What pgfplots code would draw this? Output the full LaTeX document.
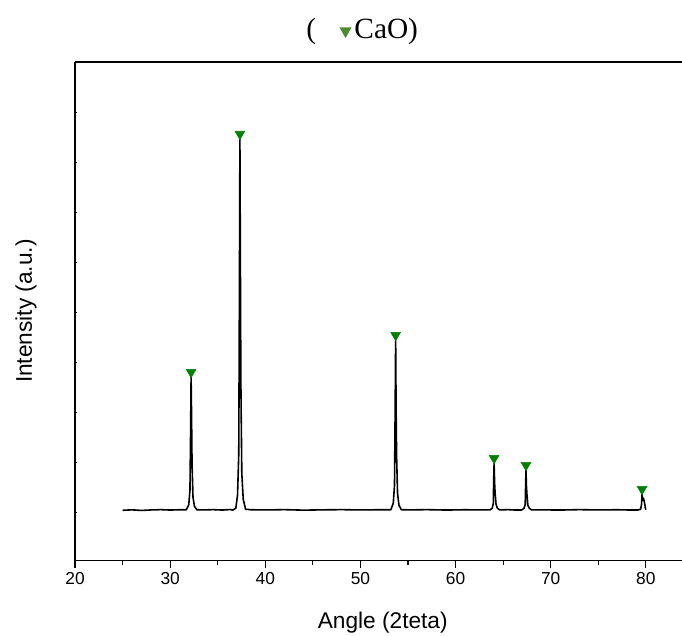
\documentclass[border=0pt]{standalone}
\usepackage{pgfplots}
\pgfplotsset{compat=1.18}
\usepackage{fontspec}
\setmainfont{Liberation Sans}
\newfontfamily\seriffont{Liberation Serif}
\definecolor{cao}{HTML}{008000}
\definecolor{caotitle}{HTML}{4E8A2F}

\pgfplotstableread{
x y
25.0 50.0
26.0 50.4
27.0 49.8
28.0 50.3
29.0 50.6
30.0 50.2
31.0 50.5
31.7 50.5
31.95 55.3
32.08 70
32.15 130
32.2 183
32.25 143
32.3 96
32.4 63
32.55 54
32.8 50.5
33.5 50.3
34.5 50.6
35.5 50.2
36.3 50.7
36.6 50.2
36.9 52.0
37.08 65
37.21 106
37.28 273
37.33 421
37.38 300
37.43 180
37.53 87
37.68 61
37.93 51
38.5 50.5
40.0 50.3
42.0 50.6
44.0 50.1
46.0 50.4
48.0 50.6
50.0 50.3
52.0 50.5
53.2 50.5
53.45 57
53.58 75
53.65 152
53.7 220
53.75 150
53.8 105
53.9 67
54.05 55
54.3 50.5
55.5 50.4
57.0 50.6
59.0 50.2
61.0 50.5
62.5 50.3
63.6 50.3
63.85 52
63.97 57
64.0 78
64.05 97
64.1 78
64.15 68
64.25 56
64.4 52
64.65 50.3
65.5 50.6
66.3 50.2
66.95 50.3
67.2 52
67.32 56
67.36 74
67.4 90
67.45 74
67.5 66
67.6 55
67.75 52
68.0 50.3
69.0 50.4
71.0 50.2
73.0 50.6
75.0 50.3
77.0 50.5
78.5 50.2
79.2 50.3
79.45 51
79.55 56
79.6 66
79.65 60
79.75 62
79.85 58
79.95 52
80.0 50.5
}\xrd

\pgfplotstableread{
x y
32.2 188
37.33 426
53.7 225
64.05 102
67.4 95
79.6 71
}\peaks

\begin{document}
\begin{tikzpicture}
\begin{axis}[
  scale only axis,
  width=455pt, height=373.5pt,
  xmin=20, xmax=83.8,
  ymin=0, ymax=498,
  axis y line*=left,
  axis x line*=box,
  axis line style={line width=1.1pt},
  xtick={20,30,40,50,60,70,80},
  minor xtick={25,35,45,55,65,75},
  xtick pos=bottom,
  xtick align=outside,
  ytick={48,98,148,198,248,298,348,398,448},
  yticklabels={},
  ytick align=inside,
  ytick style={/pgfplots/major tick length=1.5pt, line width=0.6pt},
  major tick length=5.5pt,
  minor tick length=3.5pt,
  every tick/.style={black, line width=0.9pt},
  xticklabel={\fontsize{13}{15}\selectfont\pgfmathprintnumber[assume math mode=true]{\tick}},
  xlabel={Angle (2teta)},
  ylabel={Intensity (a.u.)},
  every axis x label/.style={at={(axis description cs:0.507,-0.1365)}, anchor=base, font=\fontsize{17}{19}\selectfont},
  every axis y label/.style={at={(axis description cs:-0.0709,0.5)}, rotate=90, anchor=base, font=\fontsize{17}{19}\selectfont},
  title={{\seriffont (\hspace{0.8em}\tikz[baseline=0pt]\fill[caotitle] (0,8pt)--(9pt,8pt)--(4.5pt,0pt)--cycle;\hspace{0.1em}CaO)}},
  title style={font=\fontsize{22}{24}\selectfont, at={(axis description cs:0.473,1.032)}, anchor=base},
]
\addplot[black, line width=1.2pt, line join=round] table[x=x, y=y] {\xrd};
\addplot[only marks, mark=triangle*, mark size=4.2pt, mark options={rotate=180, fill=cao, draw=cao}] table[x=x, y=y] {\peaks};
\end{axis}
\pgfresetboundingbox
\path ([xshift=-56.25pt,yshift=-56.25pt]current axis.south west) rectangle ([yshift=46.5pt]current axis.north east);
\end{tikzpicture}
\end{document}
